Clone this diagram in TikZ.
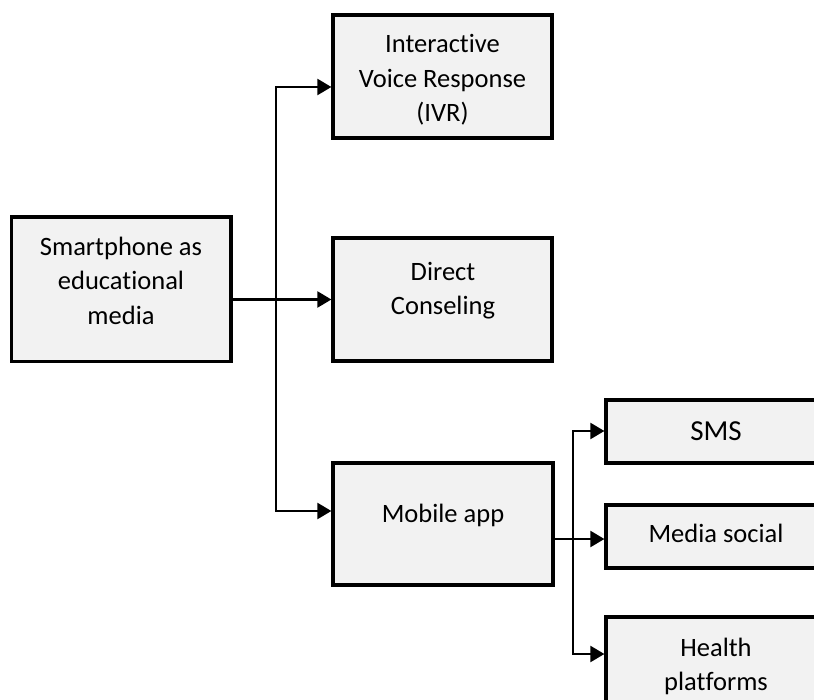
\documentclass[tikz,border=0pt]{standalone}
\usepackage{fontspec}
\setmainfont{Carlito}[Ligatures={NoCommon}]
\usetikzlibrary{arrows.meta}
\definecolor{boxgray}{HTML}{F2F2F2}
\begin{document}
\begin{tikzpicture}[x=1pt,y=-1pt,
  box/.style={draw=black, line width=3.2pt, fill=boxgray, inner sep=0pt},
  lbl/.style={inner sep=0pt, align=center, font=\fontsize{26.5}{34.5}\selectfont},
  lblbig/.style={inner sep=0pt, align=center, font=\fontsize{29}{35}\selectfont},
  wire/.style={draw=black, line width=2.2pt},
  conn/.style={wire, -{Triangle[length=14pt,width=16pt]}}]
\useasboundingbox (0,0) rectangle (814,700);
\clip (0,0) rectangle (814,700);

% boxes
\node[box, minimum width=219.5pt, minimum height=144.5pt] (smart)  at (121.25,289.25) {};
\node[box, minimum width=219pt,   minimum height=123pt]   (ivr)    at (442.5,76.5) {};
\node[box, minimum width=219pt,   minimum height=123pt]   (direct) at (442.5,299.5) {};
\node[box, minimum width=220pt,   minimum height=122pt]   (mobile) at (443,524) {};
\node[box, minimum width=220pt,   minimum height=63pt]    (sms)    at (716,431.5) {};
\node[box, minimum width=220pt,   minimum height=63pt]    (media)  at (716,536.5) {};
\node[box, minimum width=220pt,   minimum height=108pt]   (health) at (716,671) {};

% labels
\node[lbl] (smarttxt)  at (121,283.1)  {\strut Smartphone as\\\strut educational\\\strut media};
\node[lbl] (ivrtxt)    at (442.5,80.6) {\strut Interactive\\\strut Voice Response\\\strut (IVR)};
\node[lbl] (directtxt) at (443,290.6)  {\strut Direct\\\strut Conseling};
\node[lbl] (mobiletxt) at (443,515.1)  {\strut Mobile app};
\node[lblbig] (smstxt) at (716,433)    {\strut SMS};
\node[lbl] (mediatxt)  at (716,535.1)  {\strut Media social};
\node[lbl] (healthtxt) at (716,666.6)  {\strut Health\\\strut platforms};

% main branch
\coordinate (trunktop) at (276,87);
\coordinate (trunkbot) at (276,511);
\draw[conn] (smart.east |- direct.west) -- (direct.west);
\draw[conn, line join=miter] (trunkbot) -- (trunktop) -- (ivr.west |- trunktop);
\draw[conn, line cap=rect] (trunkbot) -- (mobile.west |- trunkbot);

% sub branch from the app
\coordinate (subtop) at (573,431);
\coordinate (subbot) at (573,654);
\coordinate (subout) at (573,539);
\draw[conn] (mobile.east |- subout) -- (media.west |- subout);
\draw[conn, line join=miter] (subbot) -- (subtop) -- (sms.west |- subtop);
\draw[conn, line cap=rect] (subbot) -- (health.west |- subbot);
\end{tikzpicture}
\end{document}
